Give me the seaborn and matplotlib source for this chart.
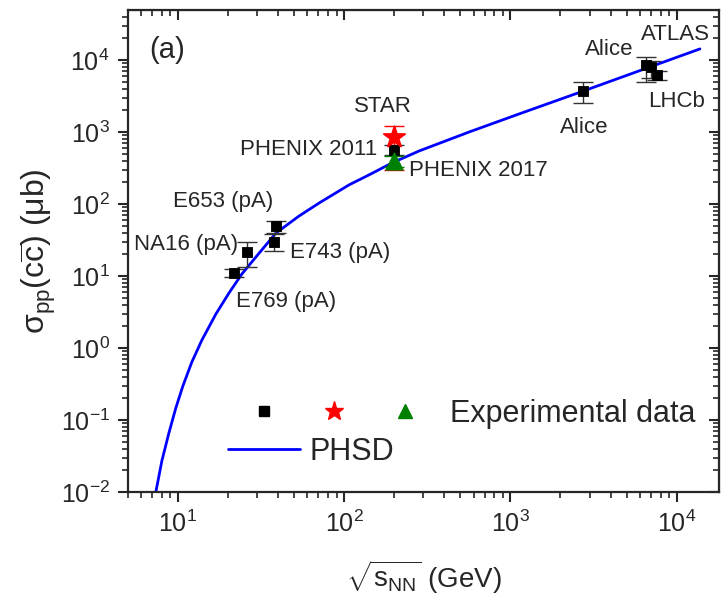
import matplotlib
matplotlib.use("Agg")
import matplotlib.pyplot as plt
from matplotlib.legend_handler import HandlerTuple
from matplotlib.lines import Line2D
import numpy as np
import pandas as pd
import seaborn as sns

# PHSD curve
phsd_x = [7.37, 8.01, 8.83, 9.72, 10.72, 12.14, 13.95, 16.94, 20.3, 24.3, 29.5, 38.9,
          53.6, 70.7, 107, 141, 194, 283, 566, 1130, 2750, 13800]
phsd_y = [0.01, 0.027, 0.066, 0.147, 0.297, 0.64, 1.29, 2.97, 5.81, 10.7, 18.4, 39.5,
          68.1, 103, 184, 253, 371, 545, 1000, 1780, 3700, 14200]

# black squares: experiments
exp_x = [21.7, 26, 38.9, 38, 200, 2750, 6500, 7000, 7600]
exp_y = [11, 21.5, 49.5, 29.6, 562, 3700, 8500, 8000, 6200]
exp_lo = [9.8, 13.3, 39.5, 22, 480, 2530, 4950, 5600, 5300]
exp_hi = [12.4, 29.6, 58, 38.3, 650, 4950, 11000, 9500, 7000]

# STAR (red star) and PHENIX 2017 (green triangle)
star_x, star_y, star_lo, star_hi = [200], [850], [296], [1210]
phx17_x, phx17_y, phx17_lo, phx17_hi = [200], [395], [330], [470]

# labels: text, x, y, ha
labels = [
    ("STAR", 172, 2220, "center"),
    ("PHENIX 2011", 158, 562, "right"),
    ("PHENIX 2017", 245, 296, "left"),
    ("E653 (pA)", 18.7, 107, "center"),
    ("NA16 (pA)", 23, 27, "right"),
    ("E743 (pA)", 47.3, 21, "left"),
    ("E769 (pA)", 22.3, 4.4, "left"),
    ("Alice", 2790, 1170, "center"),
    ("Alice", 3950, 13800, "center"),
    ("ATLAS", 9860, 22200, "center"),
    ("LHCb", 10000, 2610, "center"),
]

sns.set_style("ticks")
plt.rcParams["font.family"] = ["Liberation Sans", "DejaVu Sans"]
plt.rcParams["mathtext.fontset"] = "custom"
plt.rcParams["mathtext.rm"] = "Liberation Sans"
plt.rcParams["mathtext.it"] = "Liberation Sans:italic"
plt.rcParams["mathtext.bf"] = "Liberation Sans:bold"
plt.rcParams["axes.unicode_minus"] = False

fig = plt.figure(figsize=(7.22, 5.98), dpi=100)
ax = fig.add_axes([0.177, 0.177, 0.819, 0.806])

curve = pd.DataFrame({"x": phsd_x, "y": phsd_y})
sns.lineplot(data=curve, x="x", y="y", ax=ax, color="#0000ff", lw=2, sort=False)

e = np.array(exp_y)
ax.errorbar(exp_x, exp_y, yerr=[e - np.array(exp_lo), np.array(exp_hi) - e], fmt="none",
            ecolor="#333333", elinewidth=1, capsize=7, capthick=1)
ax.errorbar(star_x, star_y, yerr=[[star_y[0] - star_lo[0]], [star_hi[0] - star_y[0]]], fmt="none",
            ecolor="red", elinewidth=1, capsize=7, capthick=1)
ax.errorbar(phx17_x, phx17_y, yerr=[[phx17_y[0] - phx17_lo[0]], [phx17_hi[0] - phx17_y[0]]], fmt="none",
            ecolor="green", elinewidth=1, capsize=7, capthick=1)

sns.scatterplot(x=exp_x, y=exp_y, ax=ax, marker="s", s=60, color="black", edgecolor="black", zorder=5)
sns.scatterplot(x=star_x, y=star_y, ax=ax, marker="*", s=260, color="red", edgecolor="red", zorder=6)
sns.scatterplot(x=phx17_x, y=phx17_y, ax=ax, marker="^", s=150, color="green", edgecolor="green", zorder=6)

for t, x, y, ha in labels:
    ax.text(x, y, t, ha=ha, va="center", fontsize=16)
ax.text(0.037, 0.917, "(a)", transform=ax.transAxes, ha="left", va="center", fontsize=21)

ax.set_xscale("log")
ax.set_yscale("log")
ax.set_xlim(5, 18000)
ax.set_ylim(1e-2, 4.9e4)

ax.set_xlabel(r"$\sqrt{\mathrm{s}_{\mathrm{NN}}}$ (GeV)", fontsize=20, labelpad=16)
ax.set_ylabel(r"σ$_{\mathrm{pp}}$(c$\overline{\mathrm{c}}$) (μb)", fontsize=23, labelpad=2)

for s in ax.spines.values():
    s.set_linewidth(1.6)
    s.set_visible(True)
ax.tick_params(which="major", direction="out", length=7, width=1.5, labelsize=18, pad=6)
ax.tick_params(which="minor", direction="out", length=4, width=1.2)

top = ax.secondary_xaxis("top")
top.tick_params(which="major", direction="in", length=7, width=1.5, labeltop=False)
top.tick_params(which="minor", direction="in", length=4, width=1.2)
right = ax.secondary_yaxis("right")
right.tick_params(which="major", direction="in", length=7, width=1.5, labelright=False)
right.tick_params(which="minor", direction="in", length=4, width=1.2)

h_sq = Line2D([], [], marker="s", color="black", ls="none", ms=7)
h_st = Line2D([], [], marker="*", color="red", ls="none", ms=14)
h_tr = Line2D([], [], marker="^", color="green", ls="none", ms=10)
h_ln = Line2D([], [], color="#0000ff", lw=2)
leg1 = ax.legend([(h_sq, h_st, h_tr)], ["Experimental data"],
                 handler_map={tuple: HandlerTuple(ndivide=None, pad=0)},
                 loc="center left", bbox_to_anchor=(0.171, 0.162), frameon=False, fontsize=22,
                 handlelength=6.9, handletextpad=0.35, borderpad=0, borderaxespad=0)
ax.add_artist(leg1)
ax.legend([h_ln], ["PHSD"], loc="center left", bbox_to_anchor=(0.169, 0.083), frameon=False,
          fontsize=22, handlelength=2.35, handletextpad=0.33, borderpad=0, borderaxespad=0)

fig.savefig("out.png", dpi=100)
